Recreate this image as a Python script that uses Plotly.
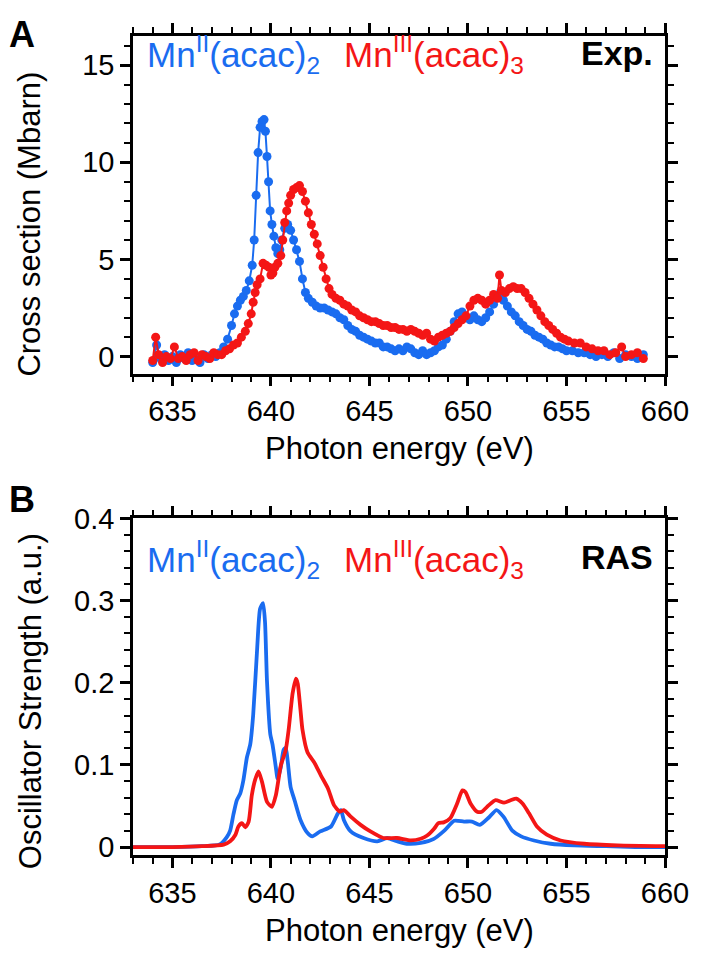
import plotly.graph_objects as go
from plotly.subplots import make_subplots

# ---------------- Experimental data (panel A) ----------------
exp_mn2_energy = [634.0, 634.2, 634.4, 634.6, 634.8, 635.0, 635.2, 635.4, 635.6, 635.8,
                  636.0, 636.2, 636.4, 636.6, 636.8, 637.0, 637.2, 637.4, 637.6, 637.8,
                  638.0, 638.15, 638.3, 638.45, 638.6, 638.75, 638.9, 639.05, 639.15, 639.25,
                  639.35, 639.45, 639.55, 639.65, 639.72, 639.8, 639.88, 639.96, 640.05, 640.15,
                  640.25, 640.35, 640.45, 640.55, 640.7, 640.85, 641.0, 641.15, 641.3, 641.45,
                  641.6, 641.75, 641.9, 642.1, 642.3, 642.5, 642.7, 642.9, 643.1, 643.3,
                  643.5, 643.7, 643.9, 644.1, 644.3, 644.5, 644.7, 644.9, 645.1, 645.3,
                  645.5, 645.7, 645.9, 646.1, 646.3, 646.5, 646.7, 646.9, 647.1, 647.3,
                  647.5, 647.7, 647.9, 648.1, 648.3, 648.5, 648.7, 648.9, 649.1, 649.3,
                  649.5, 649.7, 649.9, 650.1, 650.3, 650.5, 650.7, 650.9, 651.1, 651.3,
                  651.5, 651.65, 651.8, 652.0, 652.2, 652.4, 652.6, 652.8, 653.0, 653.2,
                  653.4, 653.6, 653.8, 654.0, 654.2, 654.4, 654.6, 654.8, 655.0, 655.3,
                  655.6, 655.9, 656.2, 656.5, 656.8, 657.1, 657.4, 657.7, 658.0, 658.3,
                  658.6, 658.9]
exp_mn2_sigma = [-0.3, 0.6, -0.1, 0.1, -0.2, 0.0, -0.3, 0.1, -0.1, 0.2,
                 -0.2, 0.0, -0.3, 0.1, -0.1, 0.1, 0.0, 0.2, 0.5, 0.9,
                 1.6, 2.2, 2.6, 2.9, 3.1, 3.4, 3.9, 4.7, 6.0, 8.3,
                 10.5, 11.8, 12.1, 12.2, 11.6, 10.3, 9.0, 7.5, 6.8, 6.2,
                 5.6, 5.3, 5.5, 6.0, 6.6, 6.8, 6.5, 6.0, 5.5, 4.9,
                 4.0, 3.3, 3.0, 2.8, 2.6, 2.5, 2.5, 2.4, 2.3, 2.2,
                 2.0, 1.9, 1.6, 1.4, 1.3, 1.1, 1.0, 0.9, 0.8, 0.7,
                 0.7, 0.5, 0.5, 0.4, 0.3, 0.4, 0.3, 0.5, 0.4, 0.2,
                 0.1, 0.3, 0.1, 0.2, 0.3, 0.5, 0.6, 0.9, 1.3, 1.8,
                 2.2, 2.3, 2.0, 1.9, 2.1, 1.9, 1.8, 2.0, 2.3, 2.7,
                 3.1, 3.3, 2.9, 2.6, 2.3, 2.1, 1.8, 1.6, 1.4, 1.3,
                 1.1, 1.0, 0.9, 0.7, 0.6, 0.5, 0.5, 0.4, 0.3, 0.3,
                 0.2, 0.2, 0.1, 0.0, 0.1, 0.0, 0.2, -0.1, 0.1, 0.0,
                 -0.1, 0.1]

exp_mn3_energy = [634.0, 634.15, 634.3, 634.5, 634.7, 634.9, 635.1, 635.3, 635.5, 635.7,
                  635.9, 636.1, 636.3, 636.5, 636.7, 636.9, 637.1, 637.3, 637.5, 637.7,
                  637.9, 638.1, 638.3, 638.5, 638.7, 638.85, 639.0, 639.1, 639.2, 639.3,
                  639.45, 639.6, 639.75, 639.9, 640.0, 640.1, 640.2, 640.35, 640.5, 640.6,
                  640.7, 640.8, 640.9, 641.0, 641.15, 641.3, 641.45, 641.6, 641.75, 641.9,
                  642.05, 642.2, 642.35, 642.5, 642.65, 642.8, 642.95, 643.1, 643.3, 643.5,
                  643.7, 643.9, 644.1, 644.3, 644.5, 644.7, 644.9, 645.1, 645.3, 645.5,
                  645.7, 645.9, 646.1, 646.3, 646.5, 646.7, 646.9, 647.1, 647.3, 647.5,
                  647.7, 647.9, 648.1, 648.3, 648.5, 648.7, 648.9, 649.1, 649.3, 649.5,
                  649.7, 649.9, 650.1, 650.3, 650.5, 650.7, 650.9, 651.1, 651.3, 651.5,
                  651.6, 651.7, 651.9, 652.1, 652.3, 652.5, 652.7, 652.9, 653.1, 653.3,
                  653.5, 653.7, 653.9, 654.1, 654.3, 654.5, 654.7, 654.9, 655.1, 655.4,
                  655.7, 656.0, 656.3, 656.6, 656.9, 657.2, 657.5, 657.8, 658.0, 658.3,
                  658.6, 658.9]
exp_mn3_sigma = [-0.2, 1.0, 0.1, -0.3, 0.0, -0.1, 0.5, -0.1, 0.0, -0.2,
                 0.1, 0.2, -0.2, 0.1, 0.0, -0.1, 0.2, 0.1, 0.1, 0.3,
                 0.4, 0.6, 0.7, 1.0, 1.3, 1.7, 2.2, 2.8, 3.3, 3.7,
                 4.0, 4.8, 4.7, 4.6, 4.2, 4.3, 4.6, 4.8, 5.2, 6.0,
                 6.9, 7.5, 7.9, 8.3, 8.6, 8.7, 8.8, 8.5, 8.0, 7.4,
                 6.8, 6.3, 5.8, 5.2, 4.6, 4.0, 3.5, 3.2, 3.0, 2.9,
                 2.7, 2.6, 2.4, 2.3, 2.1, 2.0, 1.9, 1.8, 1.8, 1.7,
                 1.6, 1.6, 1.5, 1.5, 1.4, 1.4, 1.3, 1.4, 1.3, 1.2,
                 1.1, 1.2, 0.9, 0.8, 1.0, 1.1, 1.2, 1.3, 1.5, 1.7,
                 1.9, 2.1, 2.6, 2.9, 3.0, 2.9, 2.7, 2.9, 3.2, 3.0,
                 4.2, 3.4, 3.3, 3.5, 3.6, 3.5, 3.5, 3.3, 3.0, 2.7,
                 2.4, 2.1, 1.8, 1.6, 1.4, 1.2, 1.0, 0.9, 0.8, 0.7,
                 0.7, 0.5, 0.4, 0.3, 0.3, 0.1, 0.2, 0.5, 0.0, 0.1,
                 0.2, -0.1]

# ---------------- RAS calculation (panel B) ----------------
ras_mn2_energy = [633.0, 635.0, 636.5, 637.4, 637.76, 637.93, 638.1, 638.27, 638.44, 638.6,
                  638.78, 638.95, 639.1, 639.3, 639.45, 639.6, 639.7, 639.8, 639.97, 640.08,
                  640.25, 640.34, 640.5, 640.64, 640.75, 640.85, 641.0, 641.2, 641.5, 641.86,
                  642.1, 642.5, 643.05, 643.4, 643.55, 643.7, 644.05, 644.7, 645.4, 645.9,
                  646.4, 646.9, 647.6, 648.27, 648.8, 649.3, 649.8, 650.2, 650.6, 651.06,
                  651.45, 651.8, 652.25, 652.7, 653.35, 654.2, 655.4, 657.0, 658.5, 660.0]
ras_mn2_osc = [0.0, 0.0, 0.001, 0.003, 0.012, 0.02, 0.04, 0.057, 0.065, 0.081,
               0.109, 0.125, 0.161, 0.241, 0.29, 0.297, 0.274, 0.202, 0.137, 0.125,
               0.097, 0.083, 0.097, 0.118, 0.121, 0.105, 0.073, 0.057, 0.033, 0.017,
               0.013, 0.019, 0.025, 0.041, 0.045, 0.033, 0.019, 0.011, 0.007, 0.011,
               0.007, 0.004, 0.005, 0.010, 0.020, 0.032, 0.031, 0.031, 0.027, 0.036,
               0.045, 0.037, 0.020, 0.013, 0.008, 0.004, 0.002, 0.001, 0.0, 0.0]

ras_mn3_energy = [633.0, 635.0, 636.5, 637.6, 637.93, 638.2, 638.35, 638.53, 638.7, 638.87,
                  639.03, 639.2, 639.37, 639.55, 639.8, 640.05, 640.25, 640.5, 640.75, 640.9,
                  641.1, 641.27, 641.36, 641.5, 641.6, 641.86, 642.2, 642.54, 642.9, 643.2,
                  643.5, 643.7, 644.05, 644.55, 645.05, 645.7, 646.4, 647.1, 647.6, 647.93,
                  648.27, 648.5, 648.77, 649.1, 649.45, 649.72, 649.87, 650.13, 650.47, 650.7,
                  651.06, 651.4, 651.83, 652.17, 652.45, 652.77, 653.1, 653.5, 654.0, 654.7,
                  655.9, 657.6, 660.0]
ras_mn3_osc = [0.0, 0.0, 0.001, 0.003, 0.007, 0.015, 0.025, 0.029, 0.024, 0.031,
               0.063, 0.082, 0.092, 0.079, 0.055, 0.049, 0.063, 0.099, 0.118, 0.143,
               0.187, 0.205, 0.199, 0.167, 0.143, 0.115, 0.103, 0.087, 0.071, 0.051,
               0.043, 0.045, 0.037, 0.027, 0.019, 0.011, 0.011, 0.008, 0.010, 0.014,
               0.022, 0.029, 0.030, 0.035, 0.053, 0.069, 0.067, 0.053, 0.043, 0.043,
               0.051, 0.057, 0.054, 0.057, 0.059, 0.053, 0.041, 0.025, 0.015, 0.008,
               0.004, 0.002, 0.001]

x_tick_vals = [635, 640, 645, 650, 655, 660]
x_tick_text = ["635", "640", "645", "650", "655", "660"]
y_top_ticks = [0, 5, 10, 15]
y_bot_ticks = [0, 0.1, 0.2, 0.3, 0.4]
y_bot_text = ["0", "0.1", "0.2", "0.3", "0.4"]

BLUE = "#1a6cf0"
RED = "#f41616"
FONT = "Liberation Sans, Arial, Helvetica, sans-serif"

# the page body has an 8 px margin: the figure is drawn 8 px right and down
OFF = 8
W, H = 701 - OFF, 965 - OFF
ML, MR, MT, MB = 133 - OFF, 36, 30 - OFF, 110
PW = W - ML - MR
PH = H - MT - MB


def px_x(xs):
    # screen x pixel -> paper coordinate
    return (xs - OFF - ML) / PW


def px_y(ys):
    # screen y pixel -> paper coordinate
    return (H - MB - (ys - OFF)) / PH


fig = make_subplots(rows=2, cols=1)

fig.add_trace(go.Scatter(x=exp_mn2_energy, y=exp_mn2_sigma, mode="lines+markers",
                         line=dict(color=BLUE, width=2), marker=dict(color=BLUE, size=9),
                         showlegend=False), row=1, col=1)
fig.add_trace(go.Scatter(x=exp_mn3_energy, y=exp_mn3_sigma, mode="lines+markers",
                         line=dict(color=RED, width=2), marker=dict(color=RED, size=9),
                         showlegend=False), row=1, col=1)
fig.add_trace(go.Scatter(x=ras_mn2_energy, y=ras_mn2_osc, mode="lines",
                         line=dict(color=BLUE, width=3.8, shape="spline", smoothing=0.6),
                         showlegend=False), row=2, col=1)
fig.add_trace(go.Scatter(x=ras_mn3_energy, y=ras_mn3_osc, mode="lines",
                         line=dict(color=RED, width=3.8, shape="spline", smoothing=0.6),
                         showlegend=False), row=2, col=1)

axis_common = dict(showline=True, linecolor="black", linewidth=2.5, mirror="allticks",
                   ticks="outside", ticklen=10, tickwidth=2.5, tickcolor="black",
                   showgrid=False, zeroline=False,
                   tickfont=dict(family=FONT, size=29, color="black"))

top_dom = [px_y(370), px_y(30)]
bot_dom = [px_y(855), px_y(516)]


def minor(d):
    return dict(dtick=d, ticklen=6, tickwidth=2, ticks="outside", tickcolor="black")


fig.update_layout(
    width=W, height=H, margin=dict(l=ML, r=MR, t=MT, b=MB),
    paper_bgcolor="white", plot_bgcolor="white",
    xaxis=dict(domain=[0, 1], range=[633, 660], tickvals=x_tick_vals, ticktext=x_tick_text,
               minor=minor(1), **axis_common),
    yaxis=dict(domain=top_dom, range=[-0.87, 16.5], tickvals=y_top_ticks,
               minor=minor(1), **axis_common),
    xaxis2=dict(domain=[0, 1], range=[633, 660], tickvals=x_tick_vals, ticktext=x_tick_text,
                minor=minor(1), **axis_common),
    yaxis2=dict(domain=bot_dom, range=[-0.0097, 0.4], tickvals=y_bot_ticks, ticktext=y_bot_text,
                minor=minor(0.02), **axis_common),
)

ann = []
# panel letters
ann.append(dict(text="<b>A</b>", x=px_x(22), y=px_y(28), xref="paper", yref="paper",
                xanchor="center", yanchor="middle", showarrow=False,
                font=dict(family=FONT, size=36, color="black")))
ann.append(dict(text="<b>B</b>", x=px_x(22), y=px_y(497), xref="paper", yref="paper",
                xanchor="center", yanchor="middle", showarrow=False,
                font=dict(family=FONT, size=36, color="black")))
# axis titles
ann.append(dict(text="Cross section (Mbarn)", x=px_x(30), y=px_y(220), xref="paper", yref="paper",
                xanchor="center", yanchor="middle", textangle=-90, showarrow=False,
                font=dict(family=FONT, size=31, color="black")))
ann.append(dict(text="Oscillator Strength (a.u.)", x=px_x(30), y=px_y(700), xref="paper", yref="paper",
                xanchor="center", yanchor="middle", textangle=-90, showarrow=False,
                font=dict(family=FONT, size=31, color="black")))
ann.append(dict(text="Photon energy (eV)", x=0.5, y=px_y(446), xref="paper", yref="paper",
                xanchor="center", yanchor="middle", showarrow=False,
                font=dict(family=FONT, size=31, color="black")))
ann.append(dict(text="Photon energy (eV)", x=0.5, y=px_y(931), xref="paper", yref="paper",
                xanchor="center", yanchor="middle", showarrow=False,
                font=dict(family=FONT, size=31, color="black")))
# in-panel labels
for ymid, tag in [(49, "Exp."), (557, "RAS")]:
    ann.append(dict(text="Mn<sup>II</sup>(acac)<sub>2</sub>", x=px_x(145), y=px_y(ymid), xref="paper", yref="paper",
                    xanchor="left", yanchor="middle", showarrow=False,
                    font=dict(family=FONT, size=35, color=BLUE)))
    ann.append(dict(text="Mn<sup>III</sup>(acac)<sub>3</sub>", x=px_x(342), y=px_y(ymid), xref="paper", yref="paper",
                    xanchor="left", yanchor="middle", showarrow=False,
                    font=dict(family=FONT, size=35, color=RED)))
    ann.append(dict(text="<b>" + tag + "</b>", x=px_x(655), y=px_y(ymid - 2), xref="paper", yref="paper",
                    xanchor="right", yanchor="middle", showarrow=False,
                    font=dict(family=FONT, size=34, color="black")))
fig.update_layout(annotations=ann)

fig.write_html("out.html")
